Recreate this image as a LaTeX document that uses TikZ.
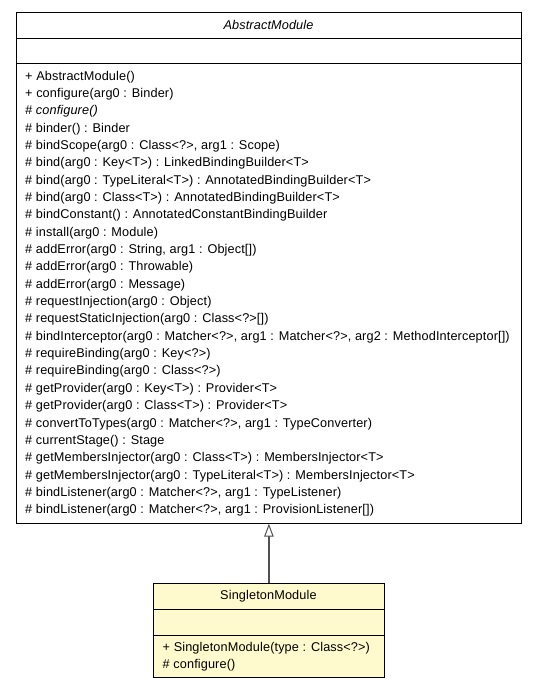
\documentclass[tikz,border=0pt]{standalone}
\usepackage{fontspec}
\setmainfont{Liberation Sans}[LetterSpace=1.0]
\usetikzlibrary{arrows.meta}
\definecolor{classfill}{RGB}{255,250,205}
\definecolor{edgegray}{RGB}{80,80,80}
\begin{document}
\begin{tikzpicture}[x=1pt,y=-1pt,
  classbox/.style={draw=black, line width=1pt, inner sep=0pt},
  sepline/.style={draw=black, line width=1pt},
  member/.style={anchor=base west, inner sep=0pt, font=\fontsize{12.7}{15}\selectfont},
  classtitle/.style={anchor=base, inner sep=0pt, font=\fontsize{12.7}{15}\selectfont},
  inherit/.style={draw=edgegray, line width=1.8pt, -{Triangle[open, length=13pt, width=9.5pt, fill=white, line width=1pt]}}]
\useasboundingbox (0,0) rectangle (536,688);
% AbstractModule
\node[classbox, fill=white, anchor=north west, minimum width=505.5pt, minimum height=510.5pt] (abs) at (15.8,12.2) {};
\coordinate (absA) at (15.8,38.3);
\coordinate (absB) at (15.8,63.3);
\draw[sepline] (absA) -- (absA -| abs.east);
\draw[sepline] (absB) -- (absB -| abs.east);
\node[classtitle, font=\fontsize{12.7}{15}\selectfont\itshape] (absT) at (268.5,29.5) {AbstractModule};
\foreach \txt [count=\i] in {
  {+ AbstractModule()},
  {+ configure(arg0 : Binder)},
  {\itshape\# configure()},
  {\# binder() : Binder},
  {\# bindScope(arg0 : Class<?>, arg1 : Scope)},
  {\# bind(arg0 : Key<T>) : LinkedBindingBuilder<T>},
  {\# bind(arg0 : TypeLiteral<T>) : AnnotatedBindingBuilder<T>},
  {\# bind(arg0 : Class<T>) : AnnotatedBindingBuilder<T>},
  {\# bindConstant() : AnnotatedConstantBindingBuilder},
  {\# install(arg0 : Module)},
  {\# addError(arg0 : String, arg1 : Object[])},
  {\# addError(arg0 : Throwable)},
  {\# addError(arg0 : Message)},
  {\# requestInjection(arg0 : Object)},
  {\# requestStaticInjection(arg0 : Class<?>[])},
  {\# bindInterceptor(arg0 : Matcher<?>, arg1 : Matcher<?>, arg2 : MethodInterceptor[])},
  {\# requireBinding(arg0 : Key<?>)},
  {\# requireBinding(arg0 : Class<?>)},
  {\# getProvider(arg0 : Key<T>) : Provider<T>},
  {\# getProvider(arg0 : Class<T>) : Provider<T>},
  {\# convertToTypes(arg0 : Matcher<?>, arg1 : TypeConverter)},
  {\# currentStage() : Stage},
  {\# getMembersInjector(arg0 : Class<T>) : MembersInjector<T>},
  {\# getMembersInjector(arg0 : TypeLiteral<T>) : MembersInjector<T>},
  {\# bindListener(arg0 : Matcher<?>, arg1 : TypeListener)},
  {\# bindListener(arg0 : Matcher<?>, arg1 : ProvisionListener[])}}
  \node[member] (am\i) at (25,{80+17.35*(\i-1)}) {\txt};
% SingletonModule
\node[classbox, fill=classfill, anchor=north west, minimum width=230.2pt, minimum height=94pt] (sing) at (153.3,582.7) {};
\coordinate (singA) at (153.3,609);
\coordinate (singB) at (153.3,635);
\draw[sepline] (singA) -- (singA -| sing.east);
\draw[sepline] (singB) -- (singB -| sing.east);
\node[classtitle] (singT) at (268.4,599.4) {SingletonModule};
\node[member] (sm1) at (162.5,651.2) {+ SingletonModule(type : Class<?>)};
\node[member] (sm2) at (162.5,668.5) {\# configure()};
% generalization
\draw[inherit] (sing.north) -- (sing.north |- abs.south);
\end{tikzpicture}
\end{document}
